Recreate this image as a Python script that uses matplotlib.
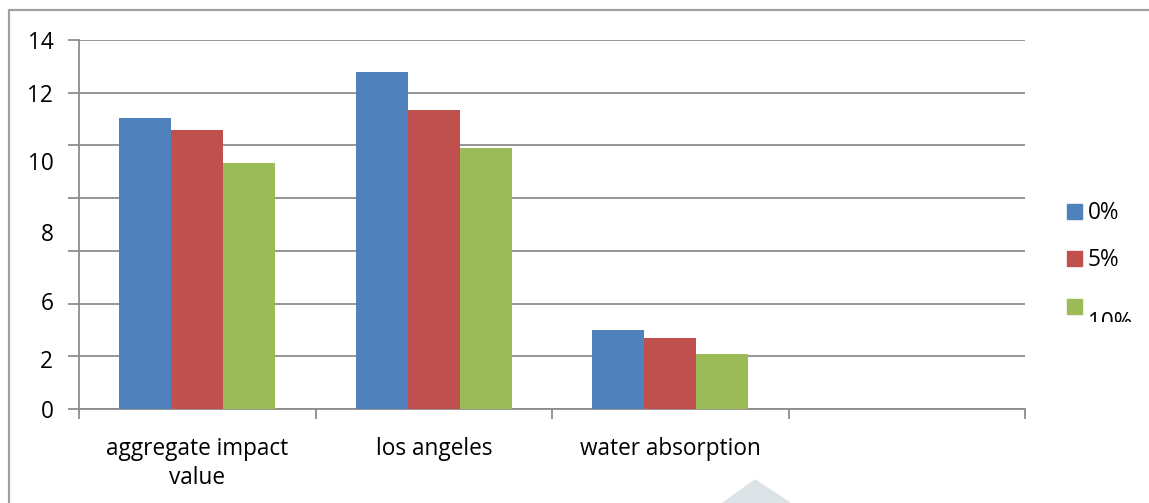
import matplotlib
matplotlib.use("Agg")
import matplotlib.pyplot as plt
import numpy as np
from matplotlib.patches import Rectangle, Polygon

categories = ["aggregate impact\nvalue", "los angeles", "water absorption", ""]
series_names = ["0%", "5%", "10%"]
s0 = [11.05, 12.78, 3.00, 0]
s5 = [10.58, 11.34, 2.69, 0]
s10 = [9.33, 9.90, 2.09, 0]
ytick_labels = ["0", "2", "6", "8", "10", "12", "14"]
ytick_label_pos = [0, 1.9, 4.1, 6.7, 9.4, 12, 14]

colors = ["#4F81BD", "#C0504D", "#9BBB59"]
grid_c = "#8C8C8C"
fs = 16.3

plt.rcParams['font.family'] = ['Open Sans', 'DejaVu Sans']
fig = plt.figure(figsize=(11.49, 5.03), dpi=100)
ax = fig.add_axes([79/1149, 1-409/503, (1025-79)/1149, (409-40)/503])

x = np.arange(len(categories))
w = 0.22
for i, (vals, c) in enumerate(zip([s0, s5, s10], colors)):
    ax.bar(x + (i-1)*w, vals, width=w, color=c, zorder=3, linewidth=0)

ax.set_xlim(-0.5, len(categories)-0.5)
ax.set_ylim(0, 14)
ax.yaxis.remove_overlapping_locs = False
ax.xaxis.remove_overlapping_locs = False
ax.set_yticks(np.arange(0, 15, 2))
ax.set_yticklabels([])
ax.yaxis.grid(True, color=grid_c, linewidth=1.3, zorder=0)
ax.tick_params(axis='y', which='major', length=8, width=1.3, color=grid_c, direction='out')
ax.set_yticks(ytick_label_pos, minor=True)
ax.set_yticklabels(ytick_labels, minor=True, fontsize=fs)
ax.tick_params(axis='y', which='minor', length=0, pad=18.5)

ax.set_xticks(np.arange(-0.5, len(categories), 1))
ax.set_xticklabels([])
ax.tick_params(axis='x', which='major', length=7, width=1.3, color=grid_c, direction='out')
ax.set_xticks(x, minor=True)
ax.set_xticklabels(categories, minor=True, fontsize=fs, linespacing=1.3)
ax.tick_params(axis='x', which='minor', length=0, pad=20)

for sp in ['top', 'right']:
    ax.spines[sp].set_visible(False)
for sp in ['left', 'bottom']:
    ax.spines[sp].set_color(grid_c)
    ax.spines[sp].set_linewidth(1.3)

# legend drawn manually
leg_y = [212, 259, 307]
for name, c, yp in zip(series_names, colors, leg_y):
    fig.patches.append(Rectangle((1067/1149, 1-(yp+7)/503), 15/1149, 15/503,
                                 transform=fig.transFigure, color=c))
    t = fig.text(1088/1149, 1-(yp+1)/503, name, fontsize=fs, va='center', ha='left')
    if name == "10%":
        t.set_position((1088/1149, 1-(yp+16)/503))
        clip = Rectangle((1000/1149, 1-322/503), 140/1149, 12/503, transform=fig.transFigure,
                         visible=False)
        fig.patches.append(clip)
        t.set_clip_path(clip)

# chart border
fig.lines.append(plt.Line2D([9/1149, 9/1149, 1.0], [0.0, 1-10/503, 1-10/503],
                            transform=fig.transFigure, color="#A0A0A0", linewidth=1.6))
# faint watermark triangle
fig.patches.append(Polygon([[723/1149, 0.0], [755/1149, 1-480/503], [790/1149, 0.0]],
                           closed=True, transform=fig.transFigure, color="#DCE3E6"))

fig.savefig("out.png", dpi=100)
